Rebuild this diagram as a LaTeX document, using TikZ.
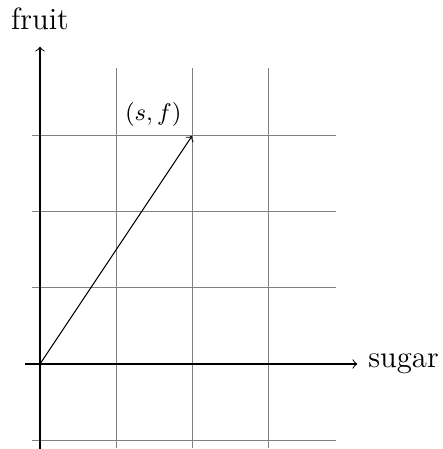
\documentclass[tikz,border=0pt]{standalone}
\begin{document}
\begin{tikzpicture}[x=76pt*0.374,y=76pt*0.374,
  gridline/.style={draw=gray,line width=0.4pt},
  axis/.style={->,line width=0.4pt},
  biglabel/.style={font=\fontsize{11.5}{13}\selectfont},
  smalllabel/.style={font=\fontsize{9}{11}\selectfont}]
\useasboundingbox (-0.526,-1.118) rectangle (5.29,4.789);
\draw[gridline] (-0.1,-1.1) grid (3.9,3.9);
\coordinate (o) at (0,0);
\coordinate (xs) at (-0.2,0);
\coordinate (ys) at (0,-1.12);
\node[inner sep=0pt] (xe) at (4.2,0) {};
\node[inner sep=0pt] (ye) at (0,4.2) {};
\node[biglabel,anchor=west,inner sep=2.5pt] (sugar) at (xe.east) {sugar};
\node[biglabel,anchor=south] (fruit) at ([yshift=1.2pt]ye.north) {fruit};
\draw[axis] (xs) -- (xe);
\draw[axis] (ys) -- (ye);
\coordinate (p) at (2,3);
\draw[->,line width=0.4pt] (o) -- (p);
\node[smalllabel] (lab) at (1.49,3.28) {$(s,f)$};
\end{tikzpicture}
\end{document}
